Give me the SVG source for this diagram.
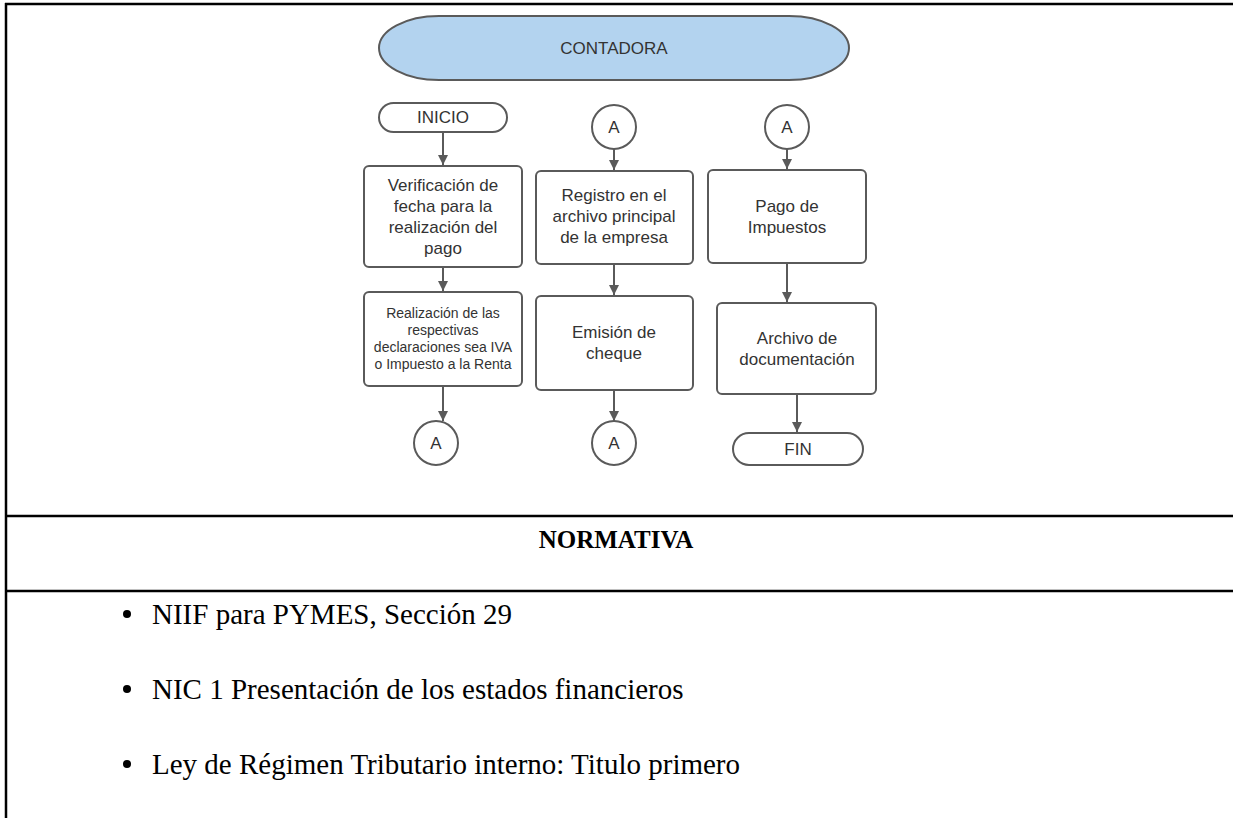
<svg xmlns="http://www.w3.org/2000/svg" width="1233" height="818" viewBox="0 0 1233 818">
  <style>
    .shape { fill: #ffffff; stroke: #5a5a5a; stroke-width: 2; }
    .lane { fill: #b3d3ef; stroke: #5a5a5a; stroke-width: 2; }
    .lbl { font-family: "Liberation Sans", Arial, sans-serif; fill: #333333; text-anchor: middle; }
    .big { font-size: 17px; }
    .small { font-size: 14px; }
    .term { font-size: 17px; }
    .edge { stroke: #5a5a5a; stroke-width: 2; fill: none; marker-end: url(#arrow); }
    .rule { stroke: #000000; stroke-width: 2.5; }
    .doc { font-family: "Liberation Serif", "Times New Roman", serif; fill: #000000; }
    .item { font-size: 29px; }
  </style>
  <defs>
    <marker id="arrow" markerUnits="userSpaceOnUse" markerWidth="11" markerHeight="11" refX="10" refY="5" orient="auto">
      <path d="M0,0 L10,5 L0,10 z" fill="#5a5a5a"/>
    </marker>
  </defs>

  <rect width="1233" height="818" fill="#ffffff"/>

  <!-- table frame -->
  <g id="frame">
    <line class="rule" x1="5" y1="4" x2="1233" y2="4"/>
    <line class="rule" x1="6" y1="3" x2="6" y2="818"/>
    <line class="rule" x1="5" y1="516" x2="1233" y2="516"/>
    <line class="rule" x1="5" y1="591" x2="1233" y2="591"/>
  </g>

  <!-- connectors -->
  <g id="connectors">
    <line class="edge" x1="443" y1="132" x2="443" y2="165"/>
    <line class="edge" x1="443" y1="267" x2="443" y2="291"/>
    <line class="edge" x1="443" y1="386" x2="443" y2="421"/>
    <line class="edge" x1="614" y1="149" x2="614" y2="170"/>
    <line class="edge" x1="614" y1="264" x2="614" y2="295"/>
    <line class="edge" x1="614" y1="390" x2="614" y2="421"/>
    <line class="edge" x1="787" y1="149" x2="787" y2="169"/>
    <line class="edge" x1="787" y1="263" x2="787" y2="302"/>
    <line class="edge" x1="797" y1="394" x2="797" y2="432"/>
  </g>

  <!-- swimlane header -->
  <g id="contadora">
    <rect class="lane" x="379" y="16" width="470" height="64" rx="60" ry="32"/>
    <text class="lbl term" x="614" y="54">CONTADORA</text>
  </g>

  <!-- column 1 -->
  <g id="inicio">
    <rect class="shape" x="379" y="103" width="128" height="29" rx="14.5" ry="14.5"/>
    <text class="lbl term" x="443" y="123">INICIO</text>
  </g>
  <g id="verificacion">
    <rect class="shape" x="364" y="166" width="158" height="101" rx="5"/>
    <text class="lbl big" x="443" y="191">Verificación de</text>
    <text class="lbl big" x="443" y="212">fecha para la</text>
    <text class="lbl big" x="443" y="233">realización del</text>
    <text class="lbl big" x="443" y="254">pago</text>
  </g>
  <g id="declaraciones">
    <rect class="shape" x="364" y="292" width="158" height="94" rx="5"/>
    <text class="lbl small" x="443" y="318">Realización de las</text>
    <text class="lbl small" x="443" y="335">respectivas</text>
    <text class="lbl small" x="443" y="352">declaraciones sea IVA</text>
    <text class="lbl small" x="443" y="369">o Impuesto a la Renta</text>
  </g>
  <g id="conector-a1">
    <circle class="shape" cx="436" cy="443" r="22"/>
    <text class="lbl term" x="436" y="449">A</text>
  </g>

  <!-- column 2 -->
  <g id="conector-a2">
    <circle class="shape" cx="614" cy="127" r="22"/>
    <text class="lbl term" x="614" y="133">A</text>
  </g>
  <g id="registro">
    <rect class="shape" x="536" y="171" width="157" height="93" rx="5"/>
    <text class="lbl big" x="614" y="201">Registro en el</text>
    <text class="lbl big" x="614" y="222">archivo principal</text>
    <text class="lbl big" x="614" y="243">de la empresa</text>
  </g>
  <g id="emision">
    <rect class="shape" x="536" y="296" width="157" height="94" rx="5"/>
    <text class="lbl big" x="614" y="338">Emisión de</text>
    <text class="lbl big" x="614" y="359">cheque</text>
  </g>
  <g id="conector-a3">
    <circle class="shape" cx="614" cy="443" r="22"/>
    <text class="lbl term" x="614" y="449">A</text>
  </g>

  <!-- column 3 -->
  <g id="conector-a4">
    <circle class="shape" cx="787" cy="127" r="22"/>
    <text class="lbl term" x="787" y="133">A</text>
  </g>
  <g id="pago">
    <rect class="shape" x="708" y="170" width="158" height="93" rx="5"/>
    <text class="lbl big" x="787" y="212">Pago de</text>
    <text class="lbl big" x="787" y="233">Impuestos</text>
  </g>
  <g id="archivo">
    <rect class="shape" x="717" y="303" width="159" height="91" rx="5"/>
    <text class="lbl big" x="797" y="344">Archivo de</text>
    <text class="lbl big" x="797" y="365">documentación</text>
  </g>
  <g id="fin">
    <rect class="shape" x="733" y="433" width="130" height="32" rx="16" ry="16"/>
    <text class="lbl term" x="798" y="455">FIN</text>
  </g>

  <!-- regulations section -->
  <g id="normativa">
    <text class="doc" x="616" y="548" font-size="25" font-weight="bold" text-anchor="middle">NORMATIVA</text>
  </g>
  <g id="lista">
    <circle cx="127" cy="614" r="4" fill="#000000"/>
    <text class="doc item" x="152" y="624">NIIF para PYMES, Sección 29</text>
    <circle cx="127" cy="689" r="4" fill="#000000"/>
    <text class="doc item" x="152" y="699">NIC 1 Presentación de los estados financieros</text>
    <circle cx="127" cy="764" r="4" fill="#000000"/>
    <text class="doc item" x="152" y="774">Ley de Régimen Tributario interno: Titulo primero</text>
  </g>
</svg>
